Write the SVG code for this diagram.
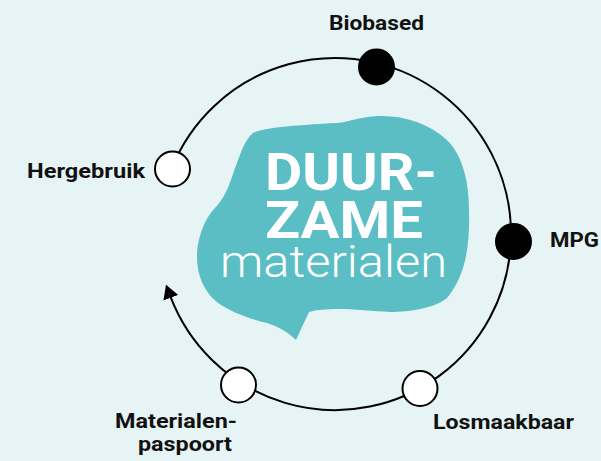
<svg xmlns="http://www.w3.org/2000/svg" width="601" height="461" viewBox="0 0 601 461">
<style>
.lbl{font-family:Roboto,"Liberation Sans",sans-serif;font-weight:700;font-size:21px;fill:#111}
.big{font-family:Roboto,"Liberation Sans",sans-serif;font-weight:700;font-size:51px;fill:#fff}
.thin{font-family:Roboto,"Liberation Sans",sans-serif;font-weight:300;font-size:45px;fill:#fff}
.node-open{fill:#fff;stroke:#000;stroke-width:2}
.node-fill{fill:#000;stroke:#000;stroke-width:2}
</style>
<defs>
<marker id="arr" viewBox="0 0 14 16" refX="2" refY="8" markerWidth="14" markerHeight="16" markerUnits="userSpaceOnUse" orient="auto-start-reverse">
<path d="M0,0 L14,8 L0,16 Z" fill="#000"/>
</marker>
</defs>
<rect width="601" height="461" fill="#E7F4F5"/>
<g id="connectors">
<path d="M 170.2 295.9 A 176 176 0 1 0 171.5 168.9" fill="none" stroke="#000" stroke-width="2" marker-start="url(#arr)"/>
</g>
<g id="center">
<path fill="#5BBEC4" d="M253,133 C265,127 300,125 337,123 C350,122 360,116 383,116 C405,116 430,124 447,140 C462,155 469,180 469,210 C470,245 466,275 447,298 C435,308 410,312 390,312 C365,311 330,306 309,312 L296,340 C290,334 280,327 267,323 C250,319 230,312 217,302 C204,292 197,275 197,257 C197,238 205,218 215,208 C228,195 232,175 237,163 C241,152 245,140 253,133 Z"/>
<text class="big" x="265" y="190" textLength="172" lengthAdjust="spacingAndGlyphs">DUUR-</text>
<text class="big" x="265" y="238" textLength="158" lengthAdjust="spacingAndGlyphs">ZAME</text>
<text class="thin" x="220" y="277" textLength="227" lengthAdjust="spacingAndGlyphs">materialen</text>
</g>
<g id="biobased">
<circle class="node-fill" cx="376.5" cy="67" r="17.5"/>
<text class="lbl" x="329" y="30" textLength="95" lengthAdjust="spacingAndGlyphs">Biobased</text>
</g>
<g id="mpg">
<circle class="node-fill" cx="513.5" cy="241.5" r="17.5"/>
<text class="lbl" x="550" y="247" textLength="49" lengthAdjust="spacingAndGlyphs">MPG</text>
</g>
<g id="losmaakbaar">
<circle class="node-open" cx="420" cy="388.5" r="17.5"/>
<text class="lbl" x="433" y="429" textLength="141" lengthAdjust="spacingAndGlyphs">Losmaakbaar</text>
</g>
<g id="materialenpaspoort">
<circle class="node-open" cx="238.5" cy="385" r="17.5"/>
<text class="lbl" x="115" y="428" textLength="122" lengthAdjust="spacingAndGlyphs">Materialen-</text>
<text class="lbl" x="138" y="451" textLength="94" lengthAdjust="spacingAndGlyphs">paspoort</text>
</g>
<g id="hergebruik">
<circle class="node-open" cx="172.5" cy="169" r="17.5"/>
<text class="lbl" x="27" y="178" textLength="118" lengthAdjust="spacingAndGlyphs">Hergebruik</text>
</g>
</svg>
